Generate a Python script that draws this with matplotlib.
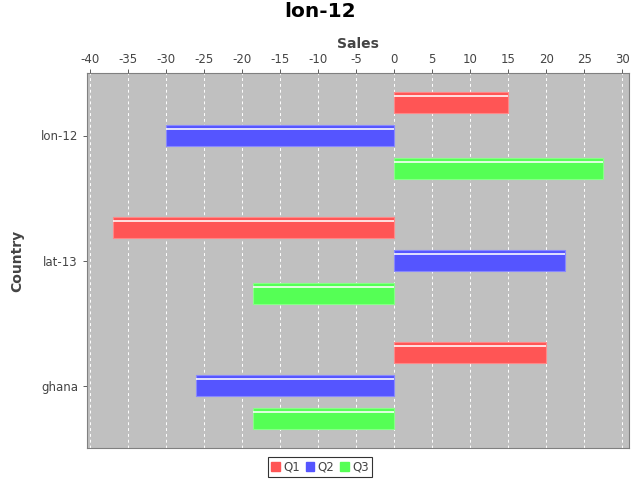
import numpy as np
import matplotlib.pyplot as plt
from matplotlib.patches import Patch

countries = ["lon-12", "lat-13", "ghana"]
series = ["Q1", "Q2", "Q3"]
q1 = [15, -37, 20]
q2 = [-30, 22.5, -26]
q3 = [27.5, -18.5, -18.5]
colors = ["#ff5555", "#5555ff", "#55ff55"]
edges = ["#ff8888", "#8888ff", "#88ff88"]
ticks = list(range(-40, 31, 5))

fig = plt.figure(figsize=(6.4, 4.8), dpi=100)
ax = fig.add_axes([87/640, 1 - 448/480, (629 - 87)/640, (448 - 73)/480])
ax.set_facecolor("#c0c0c0")

y = np.arange(len(countries))
height = 0.165
offset = 0.264
for k, (vals, c, e) in enumerate(zip([q1, q2, q3], colors, edges)):
    pos = y + (k - 1) * offset
    ax.barh(pos, vals, height=height, color=c, edgecolor=e, linewidth=0.8, zorder=3)
    # glossy highlight line near the top of each bar
    ax.barh(pos - height * 0.3, vals, height=height * 0.08, color="white",
            alpha=0.8, linewidth=0, zorder=4)

ax.set_xlim(-40.4, 30.9)
ax.set_ylim(2.5, -0.5)
ax.set_xticks(ticks)
ax.set_xticklabels([str(t) for t in ticks])
ax.set_yticks(y)
ax.set_yticklabels(countries)
ax.xaxis.tick_top()
ax.xaxis.set_label_position("top")
ax.tick_params(axis="both", labelsize=8.5, colors="#444444", length=3, width=0.6)
ax.tick_params(axis="x", pad=2)
ax.grid(axis="x", color="white", linestyle=(0, (3, 3)), linewidth=0.7, zorder=1)
for s in ax.spines.values():
    s.set_color("#808080")
    s.set_linewidth(0.8)

ax.set_xlabel("Sales", fontsize=10, fontweight="bold", color="#444444", labelpad=4)
ax.set_ylabel("Country", fontsize=10, fontweight="bold", color="#444444", labelpad=12)
fig.suptitle("lon-12", fontsize=14.5, fontweight="bold", y=0.995)

handles = [Patch(facecolor=c, edgecolor=c) for c in colors]
leg = fig.legend(handles, series, loc="center", bbox_to_anchor=(320/640, 1 - 467/480),
                 ncol=3, fontsize=8.5, frameon=True, fancybox=False,
                 handlelength=0.7, handleheight=0.7, handletextpad=0.3,
                 columnspacing=0.5, borderpad=0.3, borderaxespad=0)
leg.get_frame().set_edgecolor("black")
leg.get_frame().set_linewidth(0.8)
for t in leg.get_texts():
    t.set_color("#444444")

fig.savefig("out.png", dpi=100)
